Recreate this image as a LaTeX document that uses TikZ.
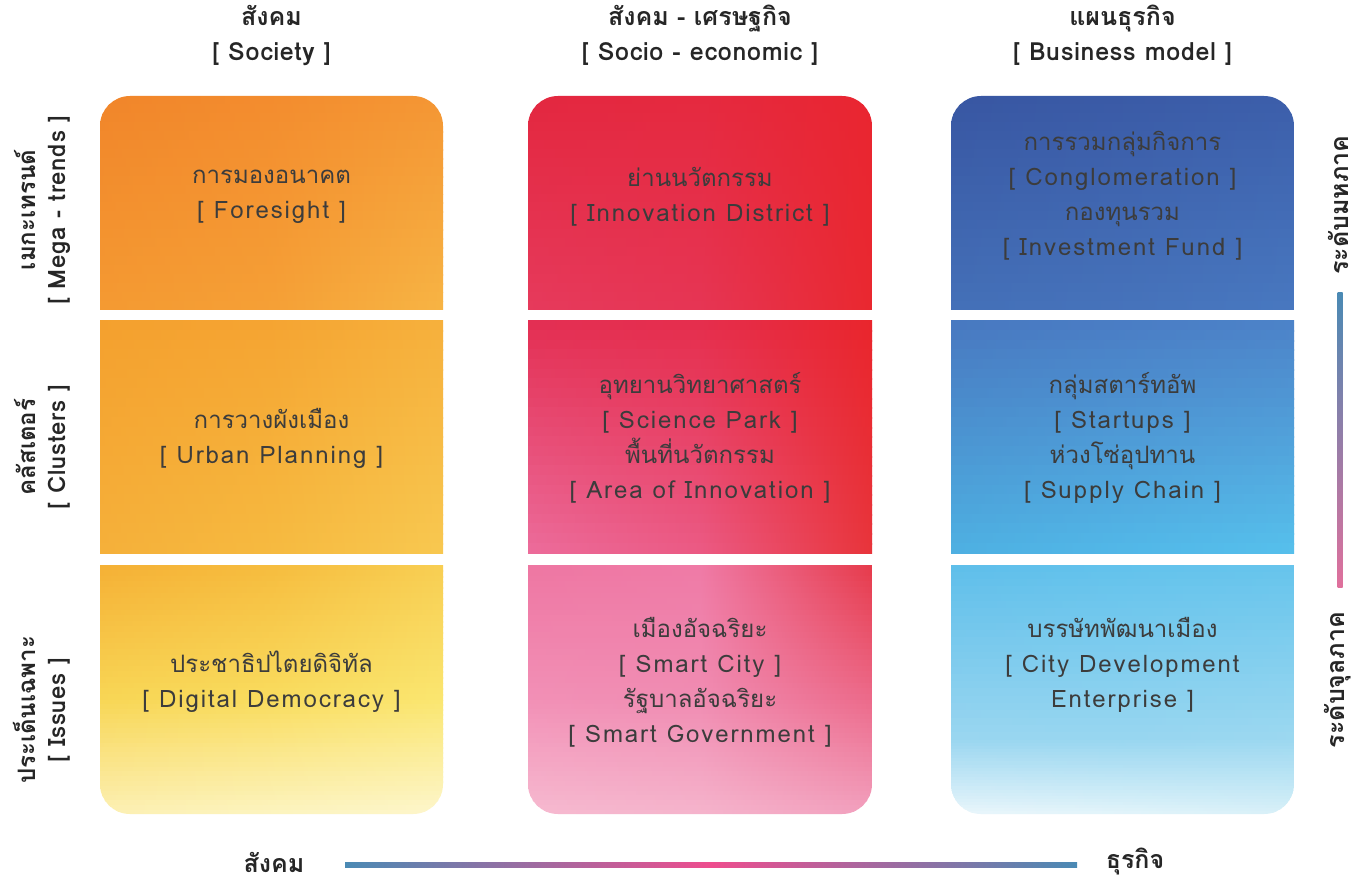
\documentclass[tikz,border=0pt]{standalone}
\usepackage{fontspec}
\newfontfamily\thaifont[Script=Thai]{Loma}
\newfontfamily\latfont[LetterSpace=8]{Loma}
\newfontfamily\latbfont[LetterSpace=3]{Loma}
\definecolor{txt}{HTML}{3C3C3C}
\definecolor{headc}{HTML}{262626}
\definecolor{lineblue}{HTML}{4A8AB4}
\definecolor{linepink}{HTML}{EE4D8E}
\definecolor{vpink}{HTML}{E0709C}
% 2D gradient colours: prefix + TL TM TR BL BM BR
\newcommand{\sixcol}[7]{%
  \definecolor{#1TL}{HTML}{#2}\definecolor{#1TM}{HTML}{#3}\definecolor{#1TR}{HTML}{#4}%
  \definecolor{#1BL}{HTML}{#5}\definecolor{#1BM}{HTML}{#6}\definecolor{#1BR}{HTML}{#7}}
\sixcol{pa}{F1852A}{F38C2E}{F49634}{F49A32}{F5A036}{F7B444}
\sixcol{pb}{F4A02E}{F5A432}{F6B03C}{F5B03A}{F6BA40}{F8C850}
\sixcol{pc}{F5B035}{F6BC3E}{F8CE52}{F8D655}{F9DC5E}{FAE670}
\sixcol{pd}{F8D655}{F9DC5E}{FAE670}{FCF0B4}{FCF4C0}{FDF6CC}
\sixcol{qa}{E3273F}{E5293F}{E92530}{E63A5C}{E63554}{E9282F}
\sixcol{qb}{E32E52}{E52D4C}{E9252C}{EC6C9B}{EB5A84}{E8343A}
\sixcol{qc}{EE76A2}{EF7AA6}{E63A4A}{F290B6}{F08CB2}{EC6A8A}
\sixcol{qd}{F290B6}{F08CB2}{EC6A8A}{F6BAD0}{F5B4CC}{F2A0BE}
\sixcol{ra}{3856A2}{3A5AA6}{3C5EAA}{4470B8}{4673BB}{4878C0}
\sixcol{rb}{4878C0}{4A7CC4}{4C82C8}{4EB0E2}{52B8E8}{56C0EC}
\sixcol{rc}{5EBEEA}{62C2EC}{66C4EC}{9AD6F0}{98D6F0}{9CD8F0}
\sixcol{rd}{9AD6F0}{98D6F0}{9CD8F0}{EAF6FB}{E2F4FA}{D8F0F8}
% strips with horizontal shading, colours interpolated vertically
\newcommand{\gradbox}[5]{% x1, x2, ytop, ybottom, prefix
  \foreach \i in {0,...,23}{%
    \pgfmathtruncatemacro\tt{round((\i+0.5)/24*100)}%
    \pgfmathsetmacro\ya{#3+(#4-#3)*\i/24}%
    \pgfmathsetmacro\yb{#3+(#4-#3)*(\i+1)/24-0.8}%
    \colorlet{gL}{#5BL!\tt!#5TL}%
    \colorlet{gM}{#5BM!\tt!#5TM}%
    \colorlet{gR}{#5BR!\tt!#5TR}%
    \shade[left color=gL, right color=gR, middle color=gM] (#1,\ya) rectangle (#2,\yb);
  }}
\newcommand{\latline}[1]{{\latfont #1}}
\newcommand{\latbline}[1]{{\latbfont #1}}
\tikzset{
  ptext/.style={font=\thaifont\fontsize{24}{35}\selectfont, text=txt, align=center, inner sep=0pt},
  head/.style={font=\thaifont\bfseries\fontsize{25}{35}\selectfont, text=headc, align=center, inner sep=0pt},
  side/.style={font=\thaifont\bfseries\fontsize{24}{30}\selectfont, text=headc, align=center, inner sep=0pt, rotate=90},
}
\begin{document}
\begin{tikzpicture}[x=1pt,y=1pt]
\useasboundingbox (0,0) rectangle (1361,-882);
\fill[white] (0,0) rectangle (1361,-882);

% ---------- column 1 (Society) ----------
\begin{scope}
\clip (100,-310) -- (100,-126) arc[start angle=180,end angle=90,radius=30] -- (413,-96) arc[start angle=90,end angle=0,radius=30] -- (443,-310) -- cycle;
\gradbox{100}{443}{-96}{-310}{pa}
\end{scope}
\begin{scope}
\clip (100,-321) rectangle (443,-553);
\gradbox{100}{443}{-321}{-553}{pb}
\end{scope}
\begin{scope}
\clip (100,-565) -- (443,-565) -- (443,-784) arc[start angle=0,end angle=-90,radius=30] -- (130,-814) arc[start angle=270,end angle=180,radius=30] -- cycle;
\gradbox{100}{443}{-565}{-700}{pc}
\gradbox{100}{443}{-700}{-815}{pd}
\end{scope}

% ---------- column 2 (Socio-economic) ----------
\begin{scope}
\clip (528,-310) -- (528,-126) arc[start angle=180,end angle=90,radius=30] -- (842,-96) arc[start angle=90,end angle=0,radius=30] -- (872,-310) -- cycle;
\gradbox{528}{872}{-96}{-310}{qa}
\end{scope}
\begin{scope}
\clip (528,-321) rectangle (872,-553);
\gradbox{528}{872}{-321}{-553}{qb}
\end{scope}
\begin{scope}
\clip (528,-565) -- (872,-565) -- (872,-784) arc[start angle=0,end angle=-90,radius=30] -- (558,-814) arc[start angle=270,end angle=180,radius=30] -- cycle;
\gradbox{528}{872}{-565}{-700}{qc}
\gradbox{528}{872}{-700}{-815}{qd}
\end{scope}

% ---------- column 3 (Business model) ----------
\begin{scope}
\clip (951,-310) -- (951,-126) arc[start angle=180,end angle=90,radius=30] -- (1264,-96) arc[start angle=90,end angle=0,radius=30] -- (1294,-310) -- cycle;
\gradbox{951}{1294}{-96}{-310}{ra}
\end{scope}
\begin{scope}
\clip (951,-321) rectangle (1294,-553);
\gradbox{951}{1294}{-321}{-553}{rb}
\end{scope}
\begin{scope}
\clip (951,-565) -- (1294,-565) -- (1294,-784) arc[start angle=0,end angle=-90,radius=30] -- (981,-814) arc[start angle=270,end angle=180,radius=30] -- cycle;
\gradbox{951}{1294}{-565}{-740}{rc}
\gradbox{951}{1294}{-740}{-815}{rd}
\end{scope}

% ---------- headers ----------
\node[head] (h1) at (271.5,-35.5) {สังคม\\\latbline{[ Society ]}};
\node[head] (h2) at (700,-35.5) {สังคม - เศรษฐกิจ\\\latbline{[ Socio - economic ]}};
\node[head] (h3) at (1122.5,-35.5) {แผนธุรกิจ\\\latbline{[ Business model ]}};

% ---------- left labels ----------
\node[side] (l1) at (42,-210) {เมกะเทรนด์\\\latbline{[ Mega - trends ]}};
\node[side] (l2) at (42,-447) {คลัสเตอร์\\\latbline{[ Clusters ]}};
\node[side] (l3) at (42,-710) {ประเด็นเฉพาะ\\\latbline{[ Issues ]}};

% ---------- panel texts ----------
\node[ptext] (a1) at (271.5,-196.5) {การมองอนาคต\\\latline{[ Foresight ]}};
\node[ptext] (a2) at (700,-196.5) {ย่านนวัตกรรม\\\latline{[ Innovation District ]}};
\node[ptext] (a3) at (1122.5,-195.5) {การรวมกลุ่มกิจการ\\\latline{[ Conglomeration ]}\\กองทุนรวม\\\latline{[ Investment Fund ]}};
\node[ptext] (b1) at (271.5,-438.5) {การวางผังเมือง\\\latline{[ Urban Planning ]}};
\node[ptext] (b2) at (700,-438) {อุทยานวิทยาศาสตร์\\\latline{[ Science Park ]}\\พื้นที่นวัตกรรม\\\latline{[ Area of Innovation ]}};
\node[ptext] (b3) at (1122.5,-438) {กลุ่มสตาร์ทอัพ\\\latline{[ Startups ]}\\ห่วงโซ่อุปทาน\\\latline{[ Supply Chain ]}};
\node[ptext] (c1) at (271.5,-681.5) {ประชาธิปไตยดิจิทัล\\\latline{[ Digital Democracy ]}};
\node[ptext] (c2) at (700,-682) {เมืองอัจฉริยะ\\\latline{[ Smart City ]}\\รัฐบาลอัจฉริยะ\\\latline{[ Smart Government ]}};
\node[ptext] (c3) at (1122.5,-664.5) {บรรษัทพัฒนาเมือง\\\latline{[ City Development}\\\latline{Enterprise ]}};

% ---------- right scale ----------
\node[side, font=\thaifont\bfseries\fontsize{25}{30}\selectfont] (macro) at (1338,-205) {ระดับมหภาค};
\node[side, font=\thaifont\bfseries\fontsize{25}{30}\selectfont] (micro) at (1338,-680) {ระดับจุลภาค};
\coordinate (vt) at (1340,-293);
\coordinate (vb) at (1340,-587);
\shade[top color=lineblue, bottom color=vpink] ([xshift=-2.5pt]vt) rectangle ([xshift=2.5pt]vb);

% ---------- bottom scale ----------
\node[head] (soc) at (274,-862) {สังคม};
\node[head] (bus) at (1135,-862) {ธุรกิจ};
\coordinate (hl) at (345,-865);
\coordinate (hr) at (1077,-865);
\shade[left color=lineblue, right color=lineblue, middle color=linepink] ([yshift=2.5pt]hl) rectangle ([yshift=-2.5pt]hr);
\end{tikzpicture}
\end{document}
